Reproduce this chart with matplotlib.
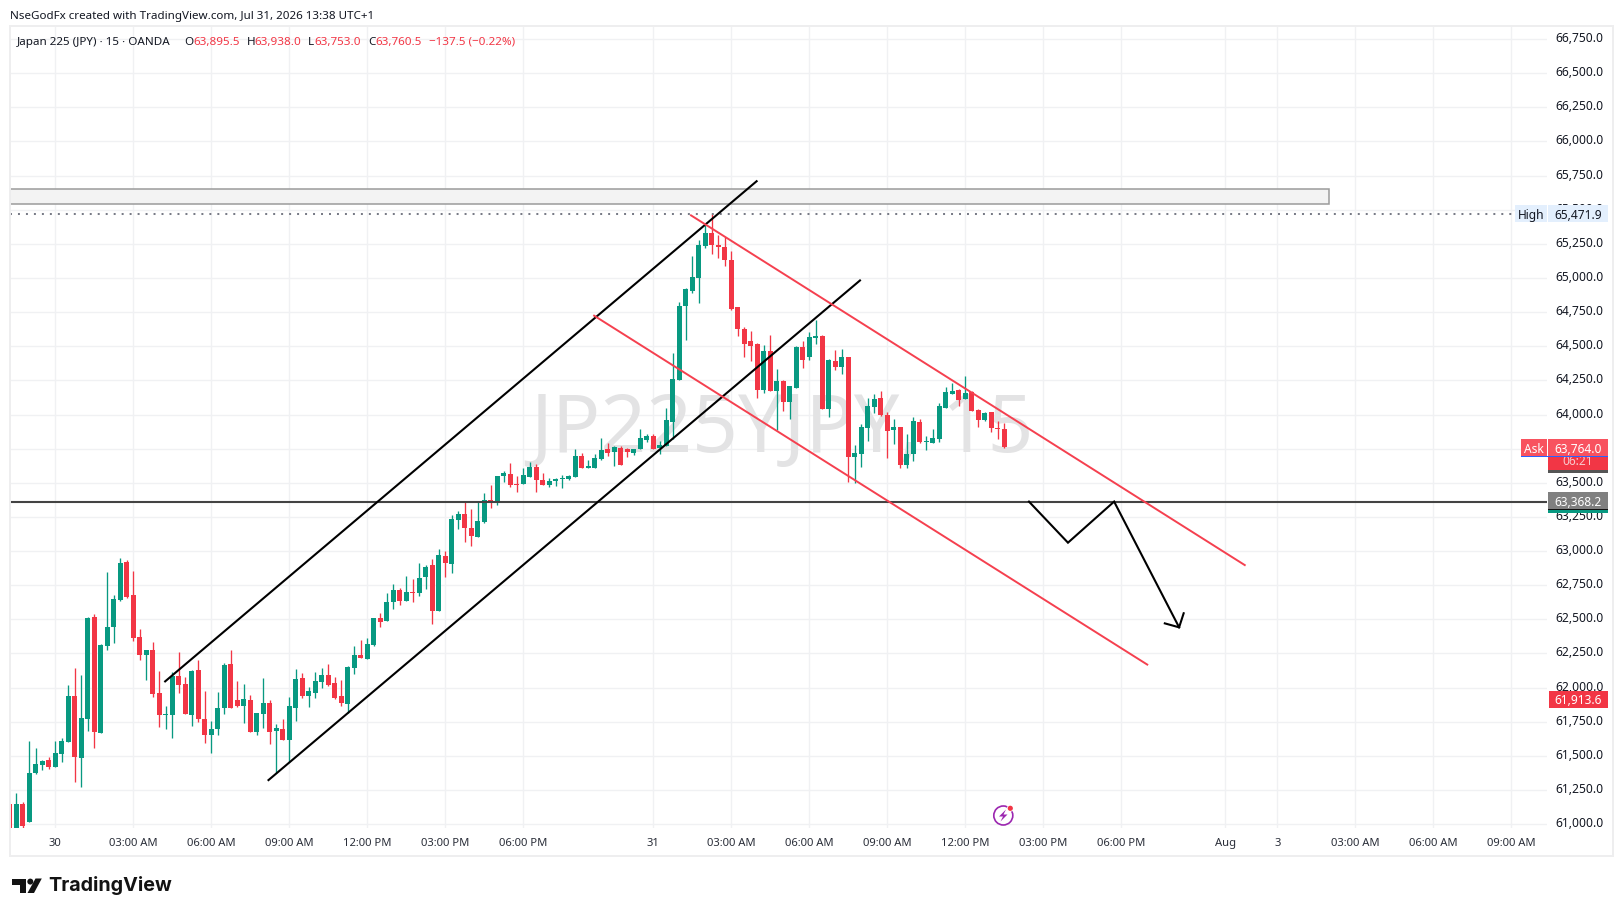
import numpy as np
import matplotlib
matplotlib.use("Agg")
import matplotlib.pyplot as plt
from matplotlib.patches import Rectangle, Circle, Polygon
from matplotlib.transforms import ScaledTranslation

# candles (15 min bars, Japan 225)
opens = [61146, 60971, 61146, 61017, 61374, 61432, 61469, 61417, 61513, 61601,
         61938, 61483, 61769, 62516, 61667, 62304, 62443, 62638, 62919, 62678,
         62370, 62238, 62275, 61960, 61798, 61798, 62084, 62026, 61798, 62128,
         61769, 61652, 61696, 61850, 62172, 61908, 61864, 61908, 61674, 61806,
         61886, 61681, 61696, 61615, 61850, 62070, 61938, 61960, 62040, 62091,
         62033, 61938, 61879, 62143, 62238, 62208, 62311, 62509, 62487, 62626,
         62714, 62633, 62699, 62692, 62809, 62897, 62560, 62963, 62905, 63227,
         63271, 63168, 63102, 63212, 63373, 63351, 63549, 63564, 63491, 63491,
         63542, 63615, 63520, 63483, 63513, 63530, 63527, 63542, 63696, 63608,
         63608, 63674, 63747, 63725, 63754, 63747, 63718, 63747, 63813, 63842,
         63754, 63769, 63945, 64252, 64794, 64904, 64999, 65234, 65329, 65241,
         65227, 65131, 64787, 64626, 64538, 64516, 64179, 64465, 64172, 64245,
         64091, 64194, 64494, 64421, 64560, 64575, 64040, 64392, 64348, 64421,
         63688, 63711, 63901, 64055, 64121, 63997, 63887, 63909, 63630, 63711,
         63945, 63799, 63791, 63821, 64048, 64150, 64180, 64114, 64165, 64033,
         63960, 64018, 63901, 63895.5]
highs = [61146, 61224, 61161, 61608, 61557, 61469, 61491, 61608, 61630, 62018,
         62143, 62091, 62516, 62538, 62319, 62846, 62678, 62949, 62934, 62853,
         62428, 62275, 62333, 62121, 61864, 62113, 62260, 62077, 62128, 62201,
         61974, 61754, 61967, 62179, 62275, 62047, 62026, 61945, 61813, 62070,
         61908, 61732, 61769, 61930, 62135, 62106, 62004, 62113, 62143, 62172,
         62077, 62055, 62157, 62304, 62348, 62362, 62509, 62546, 62692, 62758,
         62729, 62817, 62795, 62912, 62897, 62941, 63014, 63000, 63264, 63293,
         63359, 63307, 63366, 63425, 63483, 63549, 63586, 63644, 63549, 63608,
         63652, 63637, 63571, 63535, 63535, 63557, 63557, 63747, 63718, 63666,
         63710, 63828, 63791, 63769, 63769, 63754, 63747, 63894, 63857, 63857,
         63806, 64047, 64450, 64824, 64926, 65161, 65278, 65388, 65471.9, 65315,
         65300, 65197, 64787, 64641, 64611, 64523, 64509, 64582, 64333, 64252,
         64208, 64501, 64538, 64604, 64692, 64582, 64406, 64472, 64479, 64421,
         63776, 63931, 64121, 64150, 64172, 64018, 63967, 63909, 63857, 63982,
         63967, 63843, 63894, 64084, 64202, 64231, 64187, 64282, 64172, 64040,
         64018, 64018, 63953, 63938]
lows = [60971, 60971, 60971, 61017, 61366, 61395, 61403, 61417, 61454, 61601,
        61308, 61271, 61681, 61557, 61667, 62275, 62326, 62634, 62656, 62341,
        62201, 62055, 61930, 61711, 61696, 61630, 61960, 61806, 61718, 61747,
        61593, 61520, 61652, 61806, 61850, 61857, 61740, 61674, 61652, 61703,
        61586, 61374, 61615, 61454, 61754, 61923, 61857, 61923, 61996, 62011,
        61916, 61864, 61813, 62099, 62216, 62208, 62304, 62443, 62487, 62575,
        62604, 62633, 62626, 62670, 62721, 62465, 62560, 62809, 62839, 63161,
        63066, 63036, 63102, 63205, 63315, 63337, 63505, 63469, 63432, 63491,
        63542, 63432, 63483, 63469, 63476, 63461, 63520, 63542, 63608, 63608,
        63608, 63666, 63696, 63622, 63630, 63688, 63703, 63747, 63798, 63747,
        63710, 63769, 63820, 64252, 64545, 64890, 64816, 65219, 65175, 65146,
        65087, 64765, 64575, 64421, 64391, 64120, 64157, 64172, 63886, 64025,
        63967, 64194, 64340, 64399, 64516, 64040, 63981, 64326, 64296, 63505,
        63498, 63616, 63806, 64011, 63989, 63682, 63784, 63608, 63608, 63660,
        63791, 63740, 63791, 63799, 64048, 64150, 64062, 64114, 64026, 63909,
        63953, 63872, 63821, 63753]
closes = [60971, 61146, 60988, 61374, 61439, 61461, 61417, 61520, 61608, 61938,
          61491, 61776, 62509, 61674, 62311, 62443, 62648, 62912, 62663, 62363,
          62238, 62275, 61952, 61798, 61806, 62084, 62018, 61806, 62121, 61769,
          61652, 61696, 61850, 62165, 61850, 61864, 61916, 61674, 61813, 61886,
          61674, 61703, 61615, 61864, 62062, 61938, 61974, 62047, 62091, 62018,
          61923, 61886, 62150, 62238, 62216, 62318, 62509, 62480, 62626, 62714,
          62633, 62699, 62692, 62802, 62883, 62560, 62970, 62912, 63234, 63271,
          63168, 63110, 63220, 63373, 63351, 63549, 63571, 63483, 63483, 63557,
          63615, 63520, 63483, 63513, 63527, 63535, 63549, 63696, 63608, 63622,
          63681, 63740, 63718, 63762, 63630, 63725, 63747, 63828, 63842, 63747,
          63776, 63959, 64260, 64794, 64919, 65007, 65241, 65329, 65241, 65227,
          65131, 64772, 64626, 64516, 64501, 64179, 64465, 64172, 64245, 64091,
          64208, 64494, 64399, 64567, 64575, 64040, 64399, 64348, 64421, 63688,
          63718, 63909, 64062, 64114, 63997, 63879, 63909, 63630, 63711, 63953,
          63799, 63806, 63828, 64062, 64165, 64172, 64106, 64158, 64026, 63960,
          64011, 63901, 63894, 63760.5]

# x positions are bar numbers, weekend/closed hours are skipped
tick_bars = [7, 19, 31, 43, 55, 67, 79, 99, 111, 123, 135, 147, 159, 171, 187, 195, 207, 219, 231]
tick_names = ["30", "03:00 AM", "06:00 AM", "09:00 AM", "12:00 PM", "03:00 PM", "06:00 PM",
              "31", "03:00 AM", "06:00 AM", "09:00 AM", "12:00 PM", "03:00 PM", "06:00 PM",
              "Aug", "3", "03:00 AM", "06:00 AM", "09:00 AM"]
price_ticks = np.arange(61000, 66751, 250)

# hand drawn lines: (bar, price)
channel_up_top = ([23.9, 114.9], [62045, 65709])
channel_up_bottom = ([39.8, 130.8], [61322, 64982])
channel_down_top = ([104.8, 190], [65459, 62897])
channel_down_bottom = ([89.9, 175], [64724, 62168])
path_bars = [156.8, 162.8, 169.9, 179.9]
path_prices = [63362, 63061, 63362, 62441]
head_bars = [177.7, 179.9, 180.6]
head_prices = [62470, 62441, 62544]
support_level = 63368.2
support_line = 63362
high_level = 65471.9
zone_bars = [0, 202.9]
zone_prices = [65540, 65650]

UP = "#089981"
DOWN = "#f23645"
TXT = "#131722"
GRID = "#f0f1f3"
FONT = "Noto Sans"
W, H = 1623, 916
L, R, T, B = 10, 1547, 26, 828

plt.rcParams["font.family"] = [FONT, "DejaVu Sans"]

fig = plt.figure(figsize=(W / 100, H / 100), dpi=100, facecolor="white")
ax = fig.add_axes([L / W, 1 - B / H, (R - L) / W, (B - T) / H])
ax.set_xlim(0.03, 236.5)
ax.set_ylim(60971, 66846)
for s in ax.spines.values():
    s.set_visible(False)

ax.set_axisbelow(True)
ax.grid(True, color=GRID, linewidth=1.0)
ax.yaxis.tick_right()
ax.set_yticks(price_ticks)
ax.set_yticklabels([f"{p:,.1f}" for p in price_ticks], fontsize=8.7, color=TXT)
ax.set_xticks(tick_bars)
ax.set_xticklabels(tick_names, fontsize=8.1, color="#2a2e39")
ax.tick_params(axis="both", length=0)
ax.tick_params(axis="y", pad=6.2)
ax.tick_params(axis="x", pad=7.2)
# price labels sit a little above their grid lines
nudge = ScaledTranslation(0, 2 / 100, fig.dpi_scale_trans)
for lab in ax.get_yticklabels():
    lab.set_transform(lab.get_transform() + nudge)

# watermark
ax.text(0.5026, 63880, "JP225YJPY, 15", fontsize=57.7, color="#e3e3e4", ha="center", va="center",
        transform=ax.get_yaxis_transform(), zorder=0.6)

# candles
bars = np.arange(len(opens))
o = np.array(opens)
h = np.array(highs)
l = np.array(lows)
c = np.array(closes)
cols = np.where(c >= o, UP, DOWN)
ax.vlines(bars, l, h, colors=cols, linewidth=0.95, zorder=2)
ax.bar(bars, np.abs(c - o), bottom=np.minimum(o, c), width=0.77, color=cols, linewidth=0, zorder=2.1)

# zone and drawings
ax.add_patch(Rectangle((zone_bars[0], zone_prices[0]), zone_bars[1] - zone_bars[0], zone_prices[1] - zone_prices[0],
                       facecolor="#f3f3f3", edgecolor="#9b9b9b", linewidth=1.1, zorder=1.5))
ax.axhline(high_level, xmax=(1513 - L) / (R - L), color="#787b86", linewidth=1.45,
           linestyle=(0, (0.98, 2.98)), zorder=3)
ax.axhline(support_line, color="#434343", linewidth=1.5, zorder=3)
for line in [channel_up_top, channel_up_bottom]:
    ax.plot(line[0], line[1], color="black", linewidth=1.5, zorder=4)
for line in [channel_down_top, channel_down_bottom]:
    ax.plot(line[0], line[1], color="#f5404f", linewidth=1.4, zorder=4)
ax.plot(path_bars, path_prices, color="black", linewidth=1.5, zorder=4, solid_joinstyle="miter")
ax.plot(head_bars, head_prices, color="black", linewidth=1.5, zorder=4, solid_joinstyle="miter")


def frac(px):
    return (px - L) / (R - L)


def tag(x0, x1, p0, p1, bg, text=None, fg="white", price=None, ha="center", z=6):
    # flag on the price scale, x in pixels and y in price
    tr = ax.get_yaxis_transform()
    ax.add_patch(Rectangle((frac(x0), p0), frac(x1) - frac(x0), p1 - p0, facecolor=bg, edgecolor="none",
                           transform=tr, clip_on=False, zorder=z))
    if text:
        ypos = price if price is not None else (p0 + p1) / 2
        ax.text(frac((x0 + x1) / 2), ypos, text, color=fg, fontsize=8.6, ha=ha, va="center_baseline",
                transform=tr, clip_on=False, zorder=z + 0.1)


tag(1515, 1547, high_level - 62, high_level + 62, "#e3effd", "High", TXT)
tag(1548, 1608, high_level - 62, high_level + 62, "#e3effd", "65,471.9", TXT)
tag(1548, 1608, 63593, 63696, "#f23645", "06:21", "#f9c9cd", price=63668)
tag(1548, 1608, 63571, 63593, "#555555")
tag(1521, 1547, 63696, 63820, "#f8525f", "Ask")
tag(1548, 1608, 63696, 63820, "#f8525f", "63,764.0")
tag(1521, 1608, 63689, 63698, "#2962ff", z=6.5)
tag(1548, 1608, 63278, 63300, UP)
tag(1548, 1608, 63300, 63307, "#111111", z=6.2)
tag(1548, 1608, support_level - 62, support_level + 62, "#808080", "63,368.2")
tag(1549, 1608, 61913.6 - 62, 61913.6 + 62, DOWN, "61,913.6")

# everything else sits in page pixels
page = fig.add_axes([0, 0, 1, 1], zorder=5)
page.set_xlim(0, W)
page.set_ylim(H, 0)
page.axis("off")
page.patch.set_alpha(0)
page.add_patch(Rectangle((10, 26), 1602.5, 830, fill=False, edgecolor="#eeeeef", linewidth=1.4))

page.text(10, 16.5, "NseGodFx created with TradingView.com, Jul 31, 2026 13:38 UTC+1", fontsize=8.35,
          color=TXT, va="center")
page.text(17, 42.5, "Japan 225 (JPY) · 15 · OANDA", fontsize=8.4, color=TXT, va="center")
for x, s, col in [(184.3, "O", TXT), (193, "63,895.5", DOWN), (246.4, "H", TXT), (254, "63,938.0", DOWN),
                  (308.3, "L", TXT), (314.6, "63,753.0", DOWN), (367.8, "C", TXT), (375.5, "63,760.5", DOWN),
                  (428.7, "−137.5 (−0.22%)", DOWN)]:
    page.text(x, 42.5, s, fontsize=8.4, color=col, va="center")

# lightning badge
page.add_patch(Circle((1003.3, 815.5), 9.5, fill=False, edgecolor="#9c27b0", linewidth=1.2))
page.add_patch(Polygon([(1006, 809.5), (999, 816.5), (1003, 816.5), (1000.5, 821.5), (1007.5, 814.5), (1003.5, 814.5)],
                       facecolor="#9c27b0", edgecolor="none"))
page.add_patch(Circle((1010.3, 808.3), 3.4, facecolor="white", edgecolor="none"))
page.add_patch(Circle((1010.3, 808.3), 2.6, facecolor="#f23645", edgecolor="none"))

# TradingView logo
page.add_patch(Polygon([(12, 878.5), (26, 878.5), (26, 893), (20, 893), (20, 884.5), (12, 884.5)],
                       facecolor="#131313", edgecolor="none"))
page.add_patch(Circle((30.3, 881.6), 3.0, facecolor="#131313", edgecolor="none"))
page.add_patch(Polygon([(35.5, 878.5), (41.8, 878.5), (34, 893), (27.5, 893)], facecolor="#131313", edgecolor="none"))
page.text(48.5, 885.8, "TradingView", fontsize=14.2, fontfamily="Inter", fontweight="bold", color="#131313",
          va="center")

fig.savefig("out.png", dpi=100, facecolor="white")
